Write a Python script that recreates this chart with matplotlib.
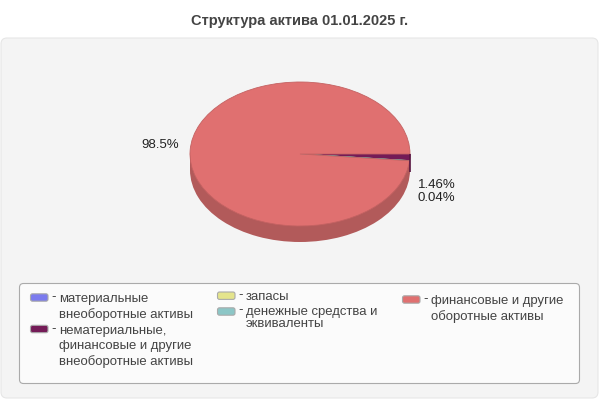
import numpy as np
import matplotlib
matplotlib.use('Agg')
import matplotlib.pyplot as plt
from matplotlib.patches import FancyBboxPatch, Rectangle

plt.rcParams['font.family'] = ['Liberation Sans', 'DejaVu Sans']

title = "Структура актива 01.01.2025 г."
values = [0, 1.46, 0, 0.04, 98.5]
colors = ['#7b7bee', '#741b57', '#e4e48c', '#8cc6c6', '#e07070']
edge_colors = ['#7b7bee', '#741b57', '#e4e48c', '#5f9c9c', '#c46262']
side_red = '#b25a5a'
side_purple = '#57143f'
legend_labels = [
    "материальные\nвнеоборотные активы",
    "нематериальные,\nфинансовые и другие\nвнеоборотные активы",
    "запасы",
    "денежные средства и\nэквиваленты",
    "финансовые и другие\nоборотные активы",
]
# swatch x, swatch y, first line y, line step
legend_pos = [
    (30, 297.5, 299, 16),
    (30, 329, 331, 15.5),
    (217, 295.7, 297, 15),
    (217, 311.5, 312, 12),
    (402, 299.5, 301, 16),
]

fig = plt.figure(figsize=(6, 4), dpi=100)

# background in pixel coordinates
bg = fig.add_axes([0, 0, 1, 1])
bg.set_xlim(0, 600)
bg.set_ylim(400, 0)
bg.axis('off')
bg.add_patch(FancyBboxPatch((1, 38), 597, 360, boxstyle="round,pad=0,rounding_size=6",
                            fc='#f4f4f4', ec='#e6e6e6', lw=0.8))
bg.add_patch(FancyBboxPatch((19.5, 283.5), 560, 100, boxstyle="round,pad=0,rounding_size=4",
                            fc='#fbfbfb', ec='#aaaaaa', lw=0.8))
bg.text(299.5, 21, title, ha='center', va='center', fontsize=10.5, fontweight='bold', color='#444444')

# 3d-like pie: darker copy shifted down, then the top
cx, cy, rx, ry, depth = 300, 154, 110, 72, 16
ax = fig.add_axes([(cx - rx) / 600, (400 - cy - ry) / 400, 2 * rx / 600, (2 * ry) / 400])
ax.add_patch(Rectangle((-1, -depth / ry), 2, depth / ry, fc=side_red, ec='none'))
ax.pie([1], colors=[side_red], center=(0, -depth / ry), radius=1, wedgeprops={'lw': 0})
wedges, _ = ax.pie(values, colors=colors, startangle=0, counterclock=False, radius=1,
                   wedgeprops={'lw': 0.6})
for w, c in zip(wedges, edge_colors):
    w.set_edgecolor(c)
# side wall of the dark slice at the right edge
ax.vlines(1, -(depth + 2) / ry, 0, color=side_purple, lw=1.2, zorder=5, clip_on=False)
ax.set_aspect('auto')
ax.set_xlim(-1, 1)
ax.set_ylim(-1, 1)
ax.axis('off')

# labels and legend on top
top = fig.add_axes([0, 0, 1, 1])
top.set_xlim(0, 600)
top.set_ylim(400, 0)
top.axis('off')
top.patch.set_alpha(0)
top.text(178.5, 145, "98.5%", ha='right', va='center', fontsize=9.5, color='#222222')
top.text(418, 185, "1.46%", ha='left', va='center', fontsize=9.5, color='#222222')
top.text(418, 198, "0.04%", ha='left', va='center', fontsize=9.5, color='#222222')

for lab, col, (x, y, ty, step) in zip(legend_labels, colors, legend_pos):
    top.add_patch(FancyBboxPatch((x + 0.5, y - 3.7), 17.5, 7.4, boxstyle="round,pad=0,rounding_size=2",
                                 fc=col, ec='#aaaaaa', lw=0.8))
    top.text(x + 21.5, ty - 2, "-", ha='left', va='center', fontsize=9.45, color='#333333')
    for i, line in enumerate(lab.split("\n")):
        top.text(x + 29, ty + i * step, line, ha='left', va='center', fontsize=9.45, color='#444444')

fig.savefig('out.png', dpi=100)
